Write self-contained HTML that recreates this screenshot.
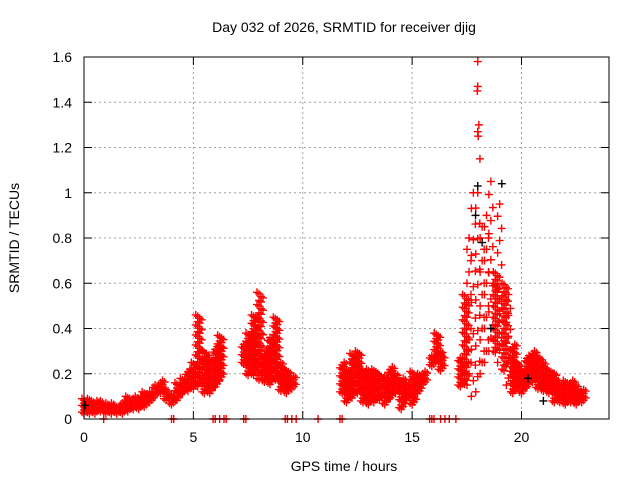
<!DOCTYPE html>
<html><head><meta charset="utf-8"><style>
body{margin:0;background:#fff}
svg text{font-family:"Liberation Sans",sans-serif;font-size:14px;fill:#000}
</style></head><body>
<svg id="chart" width="640" height="480" xmlns="http://www.w3.org/2000/svg">
<rect width="640" height="480" fill="#fff"/>
<text x="344" y="32" text-anchor="middle">Day 032 of 2026, SRMTID for receiver djig</text>
<text x="344" y="471" text-anchor="middle">GPS time / hours</text>
<text transform="translate(19,238) rotate(-90)" text-anchor="middle">SRMTID / TECUs</text>
<g id="grid"></g>
<g id="ticks"></g>
<g id="marks"></g>
<rect x="84" y="57" width="525" height="362" fill="none" stroke="#000" stroke-width="1"/>
</svg>
<script>
const xTicks=[0,5,10,15,20];
const yTicks=[0,0.2,0.4,0.6,0.8,1,1.2,1.4,1.6];
const yTickLabels=["0","0.2","0.4","0.6","0.8","1","1.2","1.4","1.6"];
const hours=[0,0.25,0.5,0.75,1,1.25,1.5,1.75,2,2.25,2.5,2.75,3,3.25,3.5,3.75,4,4.25,4.5,4.75,5,5.2,5.5,5.75,6,6.2,
7.3,7.5,7.75,8,8.25,8.5,8.75,9,9.25,9.5,
11.8,12,12.25,12.5,12.75,13,13.25,13.5,13.75,14,14.25,14.5,14.75,15,15.25,15.5,
15.9,16.1,16.3,
17.2,17.4,17.6,17.8,18,18.2,18.4,18.6,18.8,19,19.2,19.4,19.6,19.8,20,20.25,20.5,20.75,21,21.25,21.5,21.75,22,22.25,22.5,22.75];
const lowVals=[.03,.03,.03,.04,.03,.03,.03,.03,.04,.05,.05,.06,.08,.11,.12,.09,.07,.09,.12,.13,.14,.15,.12,.12,.15,.18,
.25,.20,.20,.18,.17,.16,.18,.13,.12,.14,
.12,.08,.10,.12,.08,.07,.08,.09,.07,.10,.12,.05,.09,.07,.12,.16,
.24,.27,.22,
.15,.16,.15,.10,.12,.20,.25,.30,.30,.25,.22,.15,.12,.15,.12,.15,.17,.14,.13,.12,.08,.08,.07,.08,.07,.08];
const highVals=[.09,.09,.08,.08,.07,.07,.06,.08,.10,.10,.10,.12,.12,.15,.17,.13,.11,.16,.18,.22,.25,.46,.30,.27,.32,.37,
.33,.38,.46,.56,.30,.36,.45,.25,.22,.19,
.25,.22,.29,.30,.22,.22,.22,.20,.19,.23,.20,.18,.16,.21,.20,.21,
.28,.38,.30,
.27,.55,.80,1.0,1.0,.85,.90,1.05,.65,.95,.60,.55,.33,.25,.22,.28,.30,.28,.25,.22,.20,.16,.17,.17,.15,.13];
const peakHours=[18.0,18.0,17.98,18.05,18.02,18.1,18.0];
const peakVals=[1.58,1.47,1.45,1.30,1.25,1.15,1.27];
const zeroHours=[0.9,4.0,4.1,5.9,6.0,6.2,6.4,6.5,7.3,7.4,9.2,9.3,9.5,9.7,10.7,11.7,11.8,15.8,15.9,16.0,16.3,16.5,16.7,17.0];
const blackHours=[0.05,17.9,18.0,18.2,18.6,19.1,21.0,20.3];
const blackVals=[0.06,0.9,1.03,0.78,0.4,1.04,0.08,0.18];

const X=h=>84+h*525/24, Y=v=>419-v*362/1.6;
const NS="http://www.w3.org/2000/svg";
function mk(tag,attrs,parent){const e=document.createElementNS(NS,tag);for(const k in attrs)e.setAttribute(k,attrs[k]);parent.appendChild(e);return e;}
const grid=document.getElementById('grid'),ticks=document.getElementById('ticks'),marks=document.getElementById('marks');
yTicks.forEach((v,i)=>{
  if(i>0&&i<yTicks.length-1){const g=mk('line',{x1:84,x2:609,y1:Y(v),y2:Y(v),stroke:'#a0a0a0','stroke-dasharray':'2,3'},grid);
  
  }
  mk('line',{x1:84,x2:92,y1:Y(v),y2:Y(v),stroke:'#000'},ticks);
  mk('line',{x1:601,x2:609,y1:Y(v),y2:Y(v),stroke:'#000'},ticks);
  const t=mk('text',{x:72,y:Y(v)+5,'text-anchor':'end'},ticks);t.textContent=yTickLabels[i];
  
  
});
xTicks.forEach(h=>{
  if(h>0){const g=mk('line',{x1:X(h),x2:X(h),y1:57,y2:419,stroke:'#a0a0a0','stroke-dasharray':'2,3'},grid);
  
  }
  mk('line',{x1:X(h),x2:X(h),y1:419,y2:411,stroke:'#000'},ticks);
  mk('line',{x1:X(h),x2:X(h),y1:57,y2:65,stroke:'#000'},ticks);
  const t=mk('text',{x:X(h),y:442,'text-anchor':'middle'},ticks);t.textContent=String(h);
  
  
});
function cross(x,y,c){const p=mk('path',{d:`M${x-4},${y}h8M${x},${y-4}v8`,stroke:c,'stroke-width':1.4,fill:'none'},marks);
  
  }
hours.forEach((h,i)=>{
  const y1=Y(lowVals[i]),y2=Y(highVals[i]);
  const tall=(y1-y2)>90;
  const n=tall?14:Math.max(3,Math.min(22,Math.round((y1-y2)/3)+2));
  for(let k=0;k<n;k++){const y=y1+(y2-y1)*k/(n-1);
    cross(X(h)+((k%3)-1)*2,y,'#f00');
    if(!tall)cross(X(h)+((k%3)-1)*2+2,y+1.5,'#f00');}
});
peakHours.forEach((h,i)=>cross(X(h),Y(peakVals[i]),'#f00'));
blackHours.forEach((h,i)=>cross(X(h),Y(blackVals[i]),'#000'));
zeroHours.forEach(h=>cross(X(h),Y(0),'#f00'));
</script>
</body></html>
